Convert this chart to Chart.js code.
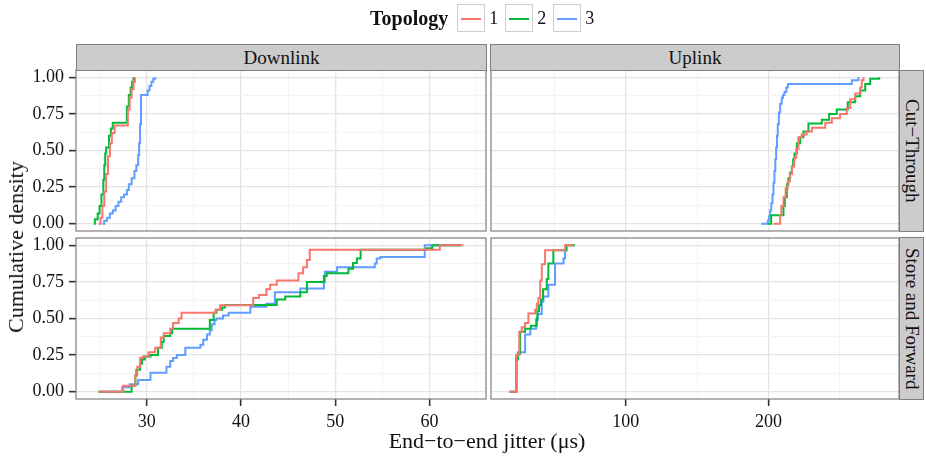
<!DOCTYPE html>
<html>
<head>
<meta charset="utf-8">
<script src="https://cdn.jsdelivr.net/npm/chart.js@4"></script>
<style>
  body { margin: 0; background: #fff; }
  #wrap { position: relative; width: 926px; height: 456px; font-family: "Liberation Serif", serif; color: #111; overflow: hidden; }
  #wrap canvas { position: absolute; left: 0; top: 0; }
  .strip { position: absolute; box-sizing: border-box; background: #cccccc; border: 1px solid #7f7f7f;
           display: flex; align-items: center; justify-content: center; font-size: 19px; white-space: nowrap; }
  .strip.side { writing-mode: vertical-rl; }
  .title { position: absolute; white-space: nowrap; font-size: 22px; transform: translate(-50%, -50%); }
  #legend { position: absolute; left: 370px; top: 3px; height: 30px; display: flex; align-items: center; font-size: 18px; }
  #legend b { font-size: 20px; margin-right: 9px; }
  .key { width: 28px; height: 28px; box-sizing: border-box; border: 1px solid #cfcfcf; position: relative; margin-right: 4px; }
  .key i { position: absolute; left: 3px; right: 3px; top: 13px; height: 2px; }
  .lab { margin-right: 7px; }
</style>
</head>
<body>
<div id="wrap">
  <div id="legend"><b>Topology</b></div>

  <div class="strip" style="left:76px; top:44px; width:411px; height:27px;">Downlink</div>
  <div class="strip" style="left:490px; top:44px; width:410px; height:27px;">Uplink</div>
  <div class="strip side" style="left:899px; top:70px; width:25px; height:162px;">Cut−Through</div>
  <div class="strip side" style="left:899px; top:237px; width:25px; height:163px;">Store and Forward</div>

  <div class="title" style="left:16px; top:247px; transform: translate(-50%, -50%) rotate(-90deg);">Cumulative density</div>
  <div class="title" style="left:487px; top:441px;">End−to−end jitter (μs)</div>
</div>

<script>
// Topologies (legend) and line colours
const topology = ['1', '2', '3'];
const colours = ['#F8766D', '#00BA38', '#619CFF'];

// Tick values and labels
const downTicks = [30, 40, 50, 60];
const downMinor = [25, 35, 45, 55, 65];
const upTicks = [100, 200];
const upMinor = [50, 150, 250];
const yTicks = [0, 0.25, 0.5, 0.75, 1];
const yTickLabels = ['0.00', '0.25', '0.50', '0.75', '1.00'];
const yMinor = [0.125, 0.375, 0.625, 0.875];

// Downlink / Cut-Through (step points)
const dcX1 = [24.9, 25.1, 25.3, 25.5, 25.7, 25.9, 26.1, 26.3, 26.6, 28.0, 28.2, 28.4, 28.6, 28.75];
const dcY1 = [0, 0.04, 0.12, 0.22, 0.34, 0.46, 0.55, 0.62, 0.67, 0.78, 0.86, 0.92, 0.97, 1.0];
const dcX2 = [24.4, 24.5, 24.8, 25.0, 25.2, 25.4, 25.5, 25.6, 25.7, 26.0, 26.2, 26.4, 27.9, 28.1, 28.3, 28.45, 28.6];
const dcY2 = [0, 0.03, 0.07, 0.12, 0.2, 0.3, 0.4, 0.48, 0.52, 0.6, 0.65, 0.69, 0.8, 0.88, 0.93, 0.97, 1.0];
const dcX3 = [25.3, 25.5, 25.8, 26.1, 26.4, 26.7, 27.0, 27.3, 27.6, 27.9, 28.1, 28.4, 28.7, 28.9, 29.1, 29.2, 29.3, 29.4, 30.1, 30.3, 30.5, 30.7, 30.9];
const dcY3 = [0, 0.02, 0.04, 0.07, 0.09, 0.12, 0.15, 0.18, 0.2, 0.23, 0.27, 0.31, 0.36, 0.4, 0.47, 0.55, 0.68, 0.88, 0.91, 0.94, 0.97, 0.99, 1.0];

// Uplink / Cut-Through
const ucX1 = [203.5, 208.2, 209.0, 210.5, 212.0, 213.5, 215.0, 216.5, 218.0, 219.5, 221.0, 223.3, 226.8, 230.4, 239.8, 244.4, 250.2, 254.9, 257.3, 260.8, 264.3, 265.4, 266.6];
const ucY1 = [0, 0.06, 0.12, 0.18, 0.24, 0.29, 0.34, 0.39, 0.45, 0.51, 0.59, 0.61, 0.63, 0.655, 0.69, 0.72, 0.75, 0.79, 0.85, 0.89, 0.93, 0.98, 1.0];
const ucX2 = [199.5, 201.9, 210.5, 211.5, 212.9, 214.0, 215.2, 216.4, 217.3, 218.2, 219.9, 222.2, 224.5, 228.0, 237.4, 242.5, 247.9, 255.6, 260.8, 264.3, 267.8, 271.3, 277.6];
const ucY2 = [0, 0.057, 0.12, 0.18, 0.27, 0.31, 0.35, 0.39, 0.44, 0.48, 0.55, 0.59, 0.63, 0.685, 0.71, 0.75, 0.78, 0.83, 0.87, 0.91, 0.955, 0.99, 1.0];
const ucX3 = [194.9, 199.5, 200.3, 201.2, 202.0, 202.8, 203.5, 204.2, 204.8, 205.4, 206.0, 206.5, 207.3, 208.2, 209.3, 210.2, 211.2, 212.5, 213.6, 258.4, 263.1];
const ucY3 = [0, 0.02, 0.05, 0.09, 0.14, 0.2, 0.28, 0.36, 0.44, 0.52, 0.6, 0.68, 0.76, 0.82, 0.86, 0.88, 0.9, 0.93, 0.955, 0.98, 1.0];

// Downlink / Store and Forward
const dsX1 = [24.9, 27.5, 28.8, 29.0, 29.3, 29.6, 30.2, 30.9, 31.5, 31.8, 32.5, 32.8, 33.4, 33.7, 37.3, 37.8, 41.3, 41.9, 42.7, 43.1, 43.8, 46.1, 46.6, 47.0, 47.3, 61.1, 63.6];
const dsY1 = [0, 0.04, 0.11, 0.17, 0.23, 0.24, 0.27, 0.3, 0.37, 0.4, 0.43, 0.47, 0.5, 0.54, 0.56, 0.59, 0.64, 0.66, 0.7, 0.73, 0.76, 0.81, 0.85, 0.9, 0.97, 1.0, 1.0];
const dsX2 = [24.9, 28.4, 28.8, 28.9, 29.3, 29.5, 29.8, 30.4, 31.2, 31.6, 31.8, 32.5, 32.7, 36.7, 37.1, 37.4, 38.0, 38.3, 43.8, 44.7, 46.3, 47.0, 48.8, 49.1, 51.4, 51.9, 52.3, 52.7, 59.7, 60.3, 63.3];
const dsY2 = [0, 0.04, 0.11, 0.15, 0.19, 0.22, 0.24, 0.25, 0.3, 0.34, 0.38, 0.4, 0.43, 0.49, 0.54, 0.56, 0.575, 0.593, 0.63, 0.65, 0.68, 0.75, 0.79, 0.81, 0.84, 0.88, 0.91, 0.97, 0.98, 1.0, 1.0];
const dsX3 = [24.9, 27.4, 28.2, 29.1, 30.4, 32.1, 32.5, 32.8, 33.2, 34.1, 35.7, 36.0, 36.4, 36.7, 36.9, 37.2, 37.4, 38.1, 38.7, 41.0, 42.7, 43.6, 46.3, 48.8, 48.9, 50.2, 54.2, 54.4, 54.8, 59.5, 63.3];
const dsY3 = [0, 0.03, 0.05, 0.08, 0.13, 0.17, 0.21, 0.23, 0.25, 0.3, 0.32, 0.355, 0.39, 0.42, 0.46, 0.49, 0.5, 0.52, 0.54, 0.58, 0.6, 0.68, 0.705, 0.75, 0.82, 0.85, 0.875, 0.91, 0.92, 1.0, 1.0];

// Uplink / Store and Forward
const usX1 = [18.5, 23.3, 25.3, 27.1, 29.4, 31.7, 36.4, 37.6, 38.7, 40.0, 41.1, 43.4, 57.4, 63.8];
const usY1 = [0, 0.25, 0.41, 0.44, 0.47, 0.535, 0.56, 0.6, 0.64, 0.76, 0.87, 0.966, 1.0, 1.0];
const usX2 = [18.5, 23.5, 24.4, 25.9, 29.4, 33.4, 37.6, 38.0, 39.2, 40.5, 42.0, 44.6, 45.7, 49.2, 58.1, 64.4];
const usY2 = [0, 0.22, 0.26, 0.41, 0.43, 0.45, 0.5, 0.55, 0.59, 0.63, 0.7, 0.77, 0.875, 0.966, 1.0, 1.0];
const usX3 = [18.5, 23.1, 24.3, 29.4, 33.0, 37.1, 38.3, 41.1, 42.2, 45.7, 50.4, 56.3, 57.4, 58.6, 63.8];
const usY3 = [0, 0.25, 0.27, 0.39, 0.43, 0.49, 0.53, 0.615, 0.65, 0.73, 0.875, 0.91, 0.966, 1.0, 1.0];

Chart.defaults.font.family = '"Liberation Serif", serif';

// legend
const legend = document.getElementById('legend');
topology.forEach((t, k) => {
  legend.insertAdjacentHTML('beforeend',
    `<div class="key"><i style="background:${colours[k]}"></i></div><span class="lab">${t}</span>`);
});

// grey frame around each panel
const panelFrame = {
  id: 'panelFrame',
  afterDraw(chart) {
    const { ctx, chartArea: a } = chart;
    ctx.save();
    ctx.strokeStyle = '#7f7f7f';
    ctx.lineWidth = 1.2;
    ctx.strokeRect(a.left, a.top, a.right - a.left, a.bottom - a.top);
    ctx.restore();
  }
};

function axis(range, major, minor, label, show, dir, size) {
  return {
    type: 'linear',
    min: range[0],
    max: range[1],
    border: { display: false },
    afterBuildTicks: s => {
      s.ticks = major.map(v => ({ value: v }))
        .concat(minor.map(v => ({ value: v, minor: true })))
        .sort((a, b) => a.value - b.value);
    },
    afterFit: s => {
      if (dir === 'x') s.height = size; else s.width = size;
      s.paddingLeft = s.paddingRight = s.paddingTop = s.paddingBottom = 0;
    },
    grid: {
      color: c => (c.tick && c.tick.minor ? '#f4f4f4' : '#e4e4e4'),
      lineWidth: c => (c.tick && c.tick.minor ? 1 : 1.3),
      drawTicks: show,
      tickLength: 7,
      tickColor: c => (c.tick && c.tick.minor ? 'rgba(0,0,0,0)' : '#333'),
      tickWidth: 1.6
    },
    ticks: {
      display: show,
      autoSkip: false,
      maxRotation: 0,
      padding: 5,
      color: '#111',
      font: { size: 18 },
      callback: v => (major.includes(v) ? label(v) : '')
    }
  };
}

const wrap = document.getElementById('wrap');

function makePanel(area, xRange, xMajor, xMinor, xs, ys, showX, showY) {
  const cv = document.createElement('canvas');
  cv.width = 926;
  cv.height = 456;
  wrap.insertBefore(cv, wrap.firstChild);
  const [l, t, r, b] = area;
  const yw = showY ? 76 : 0;
  const xh = showX ? 40 : 0;
  new Chart(cv, {
    type: 'line',
    data: {
      datasets: xs.map((xv, k) => ({
        label: topology[k],
        data: xv.map((x, i) => ({ x: x, y: ys[k][i] })),
        borderColor: colours[k],
        borderWidth: 2,
        stepped: 'before', // horizontal then vertical, as an ECDF
        pointRadius: 0,
        fill: false
      }))
    },
    options: {
      responsive: false,
      animation: false,
      events: [],
      layout: { padding: { left: l - yw, top: t, right: 926 - r, bottom: 456 - b - xh } },
      plugins: { legend: { display: false }, tooltip: { enabled: false } },
      scales: {
        x: axis(xRange, xMajor, xMinor, v => String(v), showX, 'x', xh),
        y: axis([-0.05, 1.05], yTicks, yMinor, v => yTickLabels[yTicks.indexOf(v)], showY, 'y', yw)
      }
    },
    plugins: [panelFrame]
  });
}

const downRange = [22.5, 66.0];
const upRange = [5.5, 291.5];

makePanel([76, 70, 486, 231], downRange, downTicks, downMinor, [dcX1, dcX2, dcX3], [dcY1, dcY2, dcY3], false, true);
makePanel([491, 70, 899, 231], upRange, upTicks, upMinor, [ucX1, ucX2, ucX3], [ucY1, ucY2, ucY3], false, false);
makePanel([76, 238, 486, 399], downRange, downTicks, downMinor, [dsX1, dsX2, dsX3], [dsY1, dsY2, dsY3], true, true);
makePanel([491, 238, 899, 399], upRange, upTicks, upMinor, [usX1, usX2, usX3], [usY1, usY2, usY3], true, false);
</script>
</body>
</html>
